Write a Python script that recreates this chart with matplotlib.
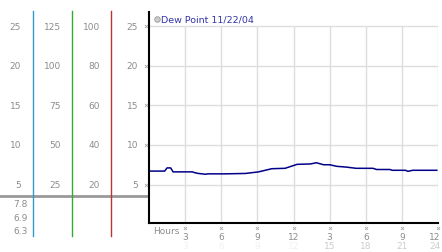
import matplotlib
matplotlib.use("Agg")
import matplotlib.pyplot as plt
from matplotlib.lines import Line2D
import matplotlib.transforms as mtransforms

# data
hours = [0, 1.3, 1.5, 1.8, 2.0, 3.6, 3.8, 4.1, 4.7, 4.9, 6.3, 8.0, 9.1, 10.2,
         11.3, 12.0, 12.3, 13.4, 13.9, 14.5, 15.0, 15.6, 16.4, 17.2, 18.6,
         18.9, 20.0, 20.2, 21.3, 21.5, 21.9, 23.9]
dew_point = [6.7, 6.7, 7.1, 7.1, 6.6, 6.6, 6.5, 6.4, 6.3, 6.35, 6.35, 6.4, 6.6,
             7.0, 7.05, 7.4, 7.55, 7.6, 7.75, 7.5, 7.5, 7.3, 7.2, 7.05, 7.05,
             6.9, 6.9, 6.8, 6.8, 6.67, 6.8, 6.8]

main_ticks = [5, 10, 15, 20, 25]
scale_a = [5, 10, 15, 20, 25]
scale_b = [25, 50, 75, 100, 125]
scale_c = [20, 40, 60, 80, 100]
readouts = ["7.8", "6.9", "6.3"]

hour_ticks = [3, 6, 9, 12, 15, 18, 21, 24]
hour_labels = ["3", "6", "9", "12", "3", "6", "9", "12"]
hour_labels2 = ["3", "6", "9", "12", "15", "18", "21", "24"]
legend_text = "Dew Point 11/22/04"

W, H = 442, 253
GREY = "#8c8c8c"

fig = plt.figure(figsize=(W / 100, H / 100), dpi=100)
ax = fig.add_axes([149 / W, 29 / H, 289 / W, 211 / H])
ax.set_xlim(0, 24)
ax.set_ylim(0.15, 26.77)

# grid
ax.vlines(hour_ticks, 0.15, 25, color="#dddddd", lw=1, zorder=0)
ax.hlines(main_ticks, 0, 24, color="#dddddd", lw=1, zorder=0)

ax.plot(hours, dew_point, color="#000088", lw=1.1)

for s in ["top", "right"]:
    ax.spines[s].set_visible(False)
for s in ["left", "bottom"]:
    ax.spines[s].set_linewidth(1.5)
ax.set_xticks([])
ax.set_yticks([])


def fx(px):
    return px / W


def fy(py):
    return 1 - py / H


ytrans = mtransforms.blended_transform_factory(fig.transFigure, ax.transData)
xtrans = mtransforms.blended_transform_factory(ax.transData, fig.transFigure)

# left scales
for vals, xr in [(scale_a, 21), (scale_b, 61), (scale_c, 100), (main_ticks, 138)]:
    for idx, v in enumerate(vals):
        fig.text(fx(xr), main_ticks[idx], str(v), transform=ytrans,
                 ha="right", va="center", fontsize=6.5, color=GREY)

# small tick marks on the y axis
ax.scatter([-0.25] * len(main_ticks), main_ticks, marker="x", s=5, lw=0.6,
           color="#aaaaaa", clip_on=False)

# coloured scale lines and separator
for x, c in [(33.3, "#3399cc"), (72.3, "#33aa33"), (111.3, "#bb3333")]:
    fig.add_artist(Line2D([fx(x), fx(x)], [fy(12), fy(237)], color=c, lw=1,
                          transform=fig.transFigure))
fig.add_artist(Line2D([0, fx(149)], [fy(197), fy(197)], color="#999999", lw=2,
                      transform=fig.transFigure, zorder=0))

for txt, y in zip(readouts, [205, 218.5, 231.5]):
    fig.text(fx(28), fy(y), txt, ha="right", va="center", fontsize=6.5,
             color=GREY)

# x labels
fig.text(fx(153), fy(232), "Hours", ha="left", va="center", fontsize=6.5,
         color=GREY)
ax.scatter(hour_ticks, [fy(229)] * len(hour_ticks), marker="x", s=5, lw=0.6,
           color="#aaaaaa", transform=xtrans, clip_on=False)
last = hour_ticks[-1]
for h, l1, l2 in zip(hour_ticks, hour_labels, hour_labels2):
    ha = "right" if h == last else "center"
    xpos = h + 0.2 if h == last else h
    fig.text(xpos, fy(237.5), l1, transform=xtrans, ha=ha, va="center",
             fontsize=6.5, color=GREY)
    c2 = "#cccccc" if h > 12 else "#f0f0f0"
    fig.text(xpos, fy(247), l2, transform=xtrans, ha=ha, va="center",
             fontsize=6.5, color=c2)

# legend
fig.add_artist(Line2D([fx(157)], [fy(20)], marker="o", ms=4, mfc="#cccccc",
                      mec="#999999", mew=0.6, transform=fig.transFigure))
fig.text(fx(161), fy(20), legend_text, ha="left", va="center", fontsize=6.8,
         color="#3333aa")

fig.savefig("out.png", dpi=100)
